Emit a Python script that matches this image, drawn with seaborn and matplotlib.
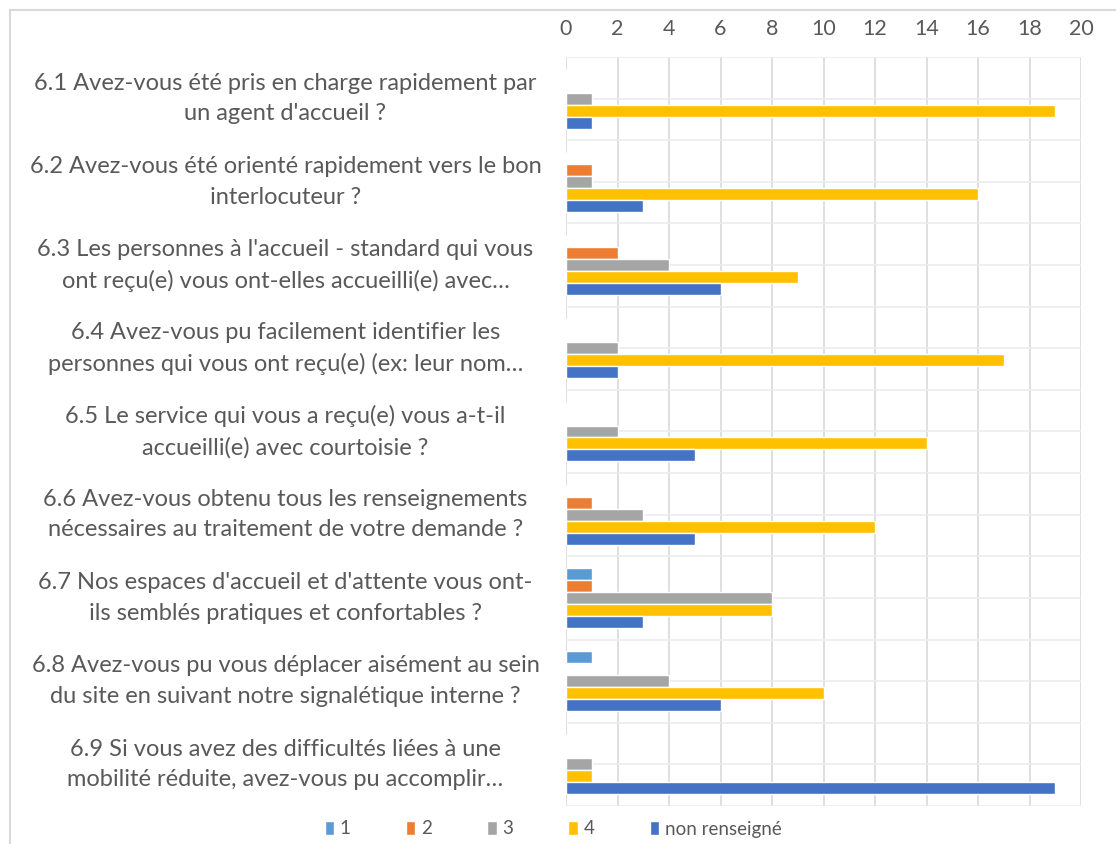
import numpy as np
import pandas as pd
import matplotlib
matplotlib.use("Agg")
import matplotlib.pyplot as plt
import seaborn as sns
from matplotlib.patches import Rectangle

# Questions (category axis)
questions = [
    "6.1 Avez-vous été pris en charge rapidement par\nun agent d'accueil ?",
    "6.2 Avez-vous été orienté rapidement vers le bon\ninterlocuteur ?",
    "6.3 Les personnes à l'accueil - standard qui vous\nont reçu(e) vous ont-elles accueilli(e) avec…",
    "6.4 Avez-vous pu facilement identifier les\npersonnes qui vous ont reçu(e) (ex: leur nom…",
    "6.5 Le service qui vous a reçu(e) vous a-t-il\naccueilli(e) avec courtoisie ?",
    "6.6 Avez-vous obtenu tous les renseignements\nnécessaires au traitement de votre demande ?",
    "6.7 Nos espaces d'accueil et d'attente vous ont-\nils semblés pratiques et confortables ?",
    "6.8 Avez-vous pu vous déplacer aisément au sein\ndu site en suivant notre signalétique interne ?",
    "6.9 Si vous avez des difficultés liées à une\nmobilité réduite, avez-vous pu accomplir…",
]

# Series values (number of answers)
series_names = ["1", "2", "3", "4", "non renseigné"]
note_1 = [0, 0, 0, 0, 0, 0, 1, 1, 0]
note_2 = [0, 1, 2, 0, 0, 1, 1, 0, 0]
note_3 = [1, 1, 4, 2, 2, 3, 8, 4, 1]
note_4 = [19, 16, 9, 17, 14, 12, 8, 10, 1]
non_renseigne = [1, 3, 6, 2, 5, 5, 3, 6, 19]

x_ticks = [0, 2, 4, 6, 8, 10, 12, 14, 16, 18, 20]
colors = ["#5B9BD5", "#ED7D31", "#A5A5A5", "#FFC000", "#4472C4"]

# Build long table for seaborn
rows = []
for name, vals in zip(series_names, [note_1, note_2, note_3, note_4, non_renseigne]):
    for q, v in zip(questions, vals):
        rows.append({"question": q, "note": name, "count": v})
df = pd.DataFrame(rows)

sns.set_style("white")
plt.rcParams["font.family"] = ["Lato", "DejaVu Sans"]
text_color = "#595959"

fig = plt.figure(figsize=(11.16, 8.44), dpi=100)
ax = fig.add_axes([566 / 1116, 1 - 806 / 844, (1081 - 566) / 1116, (806 - 57) / 844])

sns.barplot(data=df, y="question", x="count", hue="note", hue_order=series_names,
            order=questions, palette=colors, orient="h", width=0.72,
            saturation=1, ax=ax, legend=True, zorder=3)

ax.set_xlim(0, 20)
ax.set_ylim(len(questions) - 0.5, -0.5)
ax.set_xticks(x_ticks)
ax.xaxis.tick_top()
ax.tick_params(axis="x", length=0, pad=13, labelsize=15.5, labelcolor=text_color)
# label centres sit ~281 px left of the plot area -> 202 pt
ax.tick_params(axis="y", length=0, pad=202, labelsize=17, labelcolor=text_color)
for lab in ax.get_yticklabels():
    lab.set_horizontalalignment("center")
    lab.set_verticalalignment("center")
    lab.set_multialignment("center")
    lab.set_linespacing(1.55)
ax.set_xlabel("")
ax.set_ylabel("")

# grid: vertical at ticks, horizontal every half category
ax.set_yticks(np.arange(-0.5, len(questions), 0.5), minor=True)
ax.grid(axis="x", color="#d9d9d9", linewidth=1.2, zorder=0)
ax.grid(axis="y", which="both", color="#ececec", linewidth=1.2, zorder=0)
ax.tick_params(axis="y", which="minor", length=0)
for s in ax.spines.values():
    s.set_visible(False)

# legend at the bottom
handles, labels = ax.get_legend_handles_labels()
ax.legend(handles, labels, loc="center", bbox_to_anchor=(553 / 1116, 1 - 829 / 844),
          bbox_transform=fig.transFigure, ncol=5, frameon=False, fontsize=13.5,
          labelcolor=text_color, handlelength=0.5, handleheight=0.8,
          handletextpad=0.3, columnspacing=2.95)

# chart border
fig.patches.append(Rectangle((10 / 1116, -0.05), 1.1, 1 - 10 / 844 + 0.05,
                             transform=fig.transFigure, fill=False,
                             edgecolor="#d9d9d9", linewidth=1.5))

fig.savefig("out.png", dpi=100)
